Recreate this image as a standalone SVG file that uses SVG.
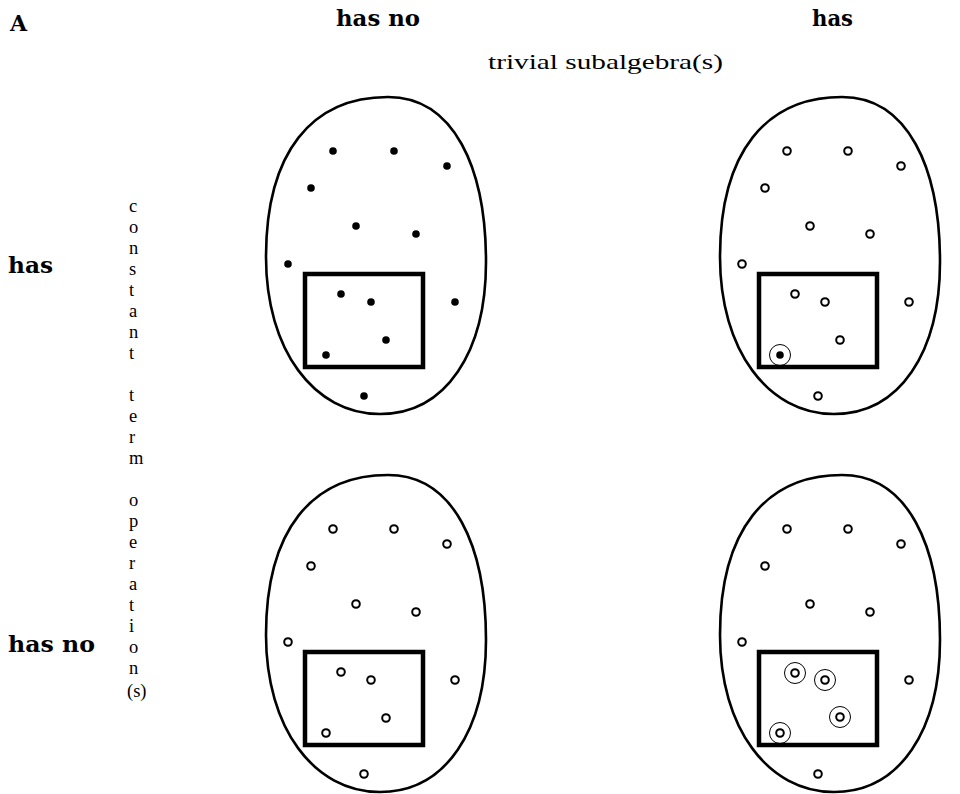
<svg xmlns="http://www.w3.org/2000/svg" xmlns:xlink="http://www.w3.org/1999/xlink" width="960" height="794" viewBox="0 0 960 794">
  <style>
    .bold { font-family: "DejaVu Serif", "Liberation Serif", serif; font-weight: bold; font-size: 22px; fill: #000; }
    .roman { font-family: "Liberation Serif", "DejaVu Serif", serif; font-size: 22px; fill: #000; }
    .letter { font-family: "Liberation Serif", "DejaVu Serif", serif; font-size: 18.5px; fill: #000; }
    .blob { fill: none; stroke: #000; stroke-width: 2.6; }
    .box { fill: none; stroke: #000; stroke-width: 4.5; }
    .dot { fill: #000; }
    .open { fill: #fff; stroke: #000; stroke-width: 2; }
    .ring { fill: none; stroke: #000; stroke-width: 1; }
  </style>
  <defs>
    <path id="blob-shape" d="M 388,97 C 454,97 486,168 486,262 C 486,352 446,414 380,414 C 314,414 266,350 266,257 C 266,152 312,97 388,97 Z"/>
    <rect id="box-shape" x="305" y="274" width="118" height="93"/>
  </defs>

  <!-- headings -->
  <g id="labels">
    <text class="bold" x="10" y="31" font-size="21">A</text>
    <text class="bold" x="336" y="26" textLength="84" lengthAdjust="spacingAndGlyphs">has no</text>
    <text class="bold" x="812" y="26" textLength="41" lengthAdjust="spacingAndGlyphs">has</text>
    <text class="roman" x="488" y="69" textLength="235" lengthAdjust="spacingAndGlyphs">trivial subalgebra(s)</text>
    <text class="bold" x="8" y="273" textLength="45" lengthAdjust="spacingAndGlyphs">has</text>
    <text class="bold" x="8" y="652" textLength="87" lengthAdjust="spacingAndGlyphs">has no</text>
  </g>

  <!-- vertical caption, one letter per line -->
  <g id="vertical-caption" class="letter">
    <text x="129" y="212">c</text>
    <text x="129" y="233">o</text>
    <text x="129" y="254">n</text>
    <text x="129" y="275">s</text>
    <text x="129" y="296">t</text>
    <text x="129" y="317">a</text>
    <text x="129" y="338">n</text>
    <text x="129" y="359">t</text>
    <text x="129" y="401">t</text>
    <text x="129" y="422">e</text>
    <text x="129" y="443">r</text>
    <text x="129" y="464">m</text>
    <text x="129" y="506">o</text>
    <text x="129" y="527">p</text>
    <text x="129" y="548">e</text>
    <text x="129" y="569">r</text>
    <text x="129" y="590">a</text>
    <text x="129" y="611">t</text>
    <text x="129" y="632">i</text>
    <text x="129" y="653">o</text>
    <text x="129" y="674">n</text>
    <text x="127" y="697">(s)</text>
  </g>

  <!-- top-left: constants, no trivial subalgebra -->
  <g id="panel-top-left">
    <use xlink:href="#blob-shape" class="blob"/>
    <use xlink:href="#box-shape" class="box"/>
    <g class="dot">
      <circle cx="333" cy="151" r="3.8"/>
      <circle cx="394" cy="151" r="3.8"/>
      <circle cx="447" cy="166" r="3.8"/>
      <circle cx="311" cy="188" r="3.8"/>
      <circle cx="356" cy="226" r="3.8"/>
      <circle cx="416" cy="234" r="3.8"/>
      <circle cx="288" cy="264" r="3.8"/>
      <circle cx="341" cy="294" r="3.8"/>
      <circle cx="371" cy="302" r="3.8"/>
      <circle cx="455" cy="302" r="3.8"/>
      <circle cx="386" cy="340" r="3.8"/>
      <circle cx="326" cy="355" r="3.8"/>
      <circle cx="364" cy="396" r="3.8"/>
    </g>
  </g>

  <!-- top-right: constants, one trivial subalgebra -->
  <g id="panel-top-right" transform="translate(454,0)">
    <use xlink:href="#blob-shape" class="blob"/>
    <use xlink:href="#box-shape" class="box"/>
    <g class="open">
      <circle cx="333" cy="151" r="3.8"/>
      <circle cx="394" cy="151" r="3.8"/>
      <circle cx="447" cy="166" r="3.8"/>
      <circle cx="311" cy="188" r="3.8"/>
      <circle cx="356" cy="226" r="3.8"/>
      <circle cx="416" cy="234" r="3.8"/>
      <circle cx="288" cy="264" r="3.8"/>
      <circle cx="341" cy="294" r="3.8"/>
      <circle cx="371" cy="302" r="3.8"/>
      <circle cx="455" cy="302" r="3.8"/>
      <circle cx="386" cy="340" r="3.8"/>
      <circle cx="364" cy="396" r="3.8"/>
    </g>
    <circle class="ring" cx="326" cy="355" r="10.5"/>
    <circle class="dot" cx="326" cy="355" r="3.8"/>
  </g>

  <!-- bottom-left: no constants, no trivial subalgebra -->
  <g id="panel-bottom-left" transform="translate(0,378)">
    <use xlink:href="#blob-shape" class="blob"/>
    <use xlink:href="#box-shape" class="box"/>
    <g class="open">
      <circle cx="333" cy="151" r="3.8"/>
      <circle cx="394" cy="151" r="3.8"/>
      <circle cx="447" cy="166" r="3.8"/>
      <circle cx="311" cy="188" r="3.8"/>
      <circle cx="356" cy="226" r="3.8"/>
      <circle cx="416" cy="234" r="3.8"/>
      <circle cx="288" cy="264" r="3.8"/>
      <circle cx="341" cy="294" r="3.8"/>
      <circle cx="371" cy="302" r="3.8"/>
      <circle cx="455" cy="302" r="3.8"/>
      <circle cx="386" cy="340" r="3.8"/>
      <circle cx="326" cy="355" r="3.8"/>
      <circle cx="364" cy="396" r="3.8"/>
    </g>
  </g>

  <!-- bottom-right: no constants, several trivial subalgebras -->
  <g id="panel-bottom-right" transform="translate(454,378)">
    <use xlink:href="#blob-shape" class="blob"/>
    <use xlink:href="#box-shape" class="box"/>
    <g class="ring">
      <circle cx="341" cy="295" r="10.5"/>
      <circle cx="371" cy="302" r="10.5"/>
      <circle cx="386" cy="339" r="10.5"/>
      <circle cx="326" cy="355" r="10.5"/>
    </g>
    <g class="open">
      <circle cx="333" cy="151" r="3.8"/>
      <circle cx="394" cy="151" r="3.8"/>
      <circle cx="447" cy="166" r="3.8"/>
      <circle cx="311" cy="188" r="3.8"/>
      <circle cx="356" cy="226" r="3.8"/>
      <circle cx="416" cy="234" r="3.8"/>
      <circle cx="288" cy="264" r="3.8"/>
      <circle cx="341" cy="295" r="3.8"/>
      <circle cx="371" cy="302" r="3.8"/>
      <circle cx="455" cy="302" r="3.8"/>
      <circle cx="386" cy="339" r="3.8"/>
      <circle cx="326" cy="355" r="3.8"/>
      <circle cx="364" cy="396" r="3.8"/>
    </g>
  </g>
</svg>
